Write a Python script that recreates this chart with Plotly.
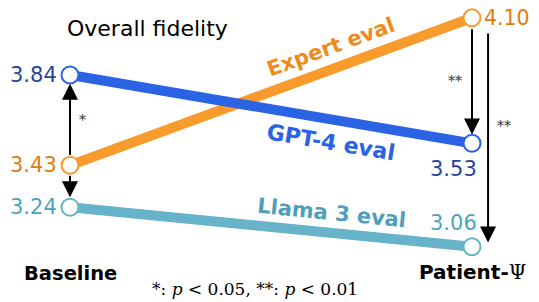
import plotly.graph_objects as go

conditions = ["Baseline", "Patient-Ψ"]
series_names = ["Expert eval", "GPT-4 eval", "Llama 3 eval"]
expert_vals = [3.43, 4.10]
gpt4_vals = [3.84, 3.53]
llama_vals = [3.24, 3.06]
value_labels = {
    "Expert eval": ["3.43", "4.10"],
    "GPT-4 eval": ["3.84", "3.53"],
    "Llama 3 eval": ["3.24", "3.06"],
}

xpos = [0, 1]
line_colors = {"Expert eval": "#f99b2c", "GPT-4 eval": "#2a63e4", "Llama 3 eval": "#67b3c9"}
name_colors = {"Expert eval": "#f08a1c", "GPT-4 eval": "#2a63e4", "Llama 3 eval": "#4f9fba"}
num_colors = {"Expert eval": "#e07d12", "GPT-4 eval": "#27449a", "Llama 3 eval": "#4ea3bf"}
vals = {"Expert eval": expert_vals, "GPT-4 eval": gpt4_vals, "Llama 3 eval": llama_vals}

FONT = "DejaVu Sans"
fig = go.Figure()

for name in series_names:
    fig.add_trace(go.Scatter(
        x=xpos, y=vals[name], mode="lines+markers",
        line=dict(color=line_colors[name], width=10),
        marker=dict(size=17, color="white", line=dict(color=line_colors[name], width=2)),
        showlegend=False, cliponaxis=False, hoverinfo="skip",
    ))

ann = []
for name in series_names:
    ann.append(dict(x=0, y=vals[name][0], text=value_labels[name][0], showarrow=False,
                    xanchor="right", yanchor="middle", xshift=-11,
                    font=dict(family=FONT, size=21, color=num_colors[name])))
ann.append(dict(x=1, y=expert_vals[1], text=value_labels["Expert eval"][1], showarrow=False,
                xanchor="left", yanchor="middle", xshift=10,
                font=dict(family=FONT, size=20.5, color=num_colors["Expert eval"])))
ann.append(dict(x=1, y=gpt4_vals[1], text=value_labels["GPT-4 eval"][1], showarrow=False,
                xanchor="right", yanchor="middle", xshift=7, yshift=-26,
                font=dict(family=FONT, size=21, color=num_colors["GPT-4 eval"])))
ann.append(dict(x=1, y=llama_vals[1], text=value_labels["Llama 3 eval"][1], showarrow=False,
                xanchor="right", yanchor="middle", xshift=7, yshift=24,
                font=dict(family=FONT, size=21, color=num_colors["Llama 3 eval"])))

label_t = 0.65
label_specs = {"Expert eval": (-20.1, 22, 21), "GPT-4 eval": (9.5, -23, 22), "Llama 3 eval": (5.7, 20, 21)}
for name in series_names:
    v0, v1 = vals[name]
    yv = v0 + (v1 - v0) * label_t
    ang, ysh, fs = label_specs[name]
    ann.append(dict(x=label_t, y=yv, text="<b>%s</b>" % name, showarrow=False,
                    textangle=ang, xanchor="center", yanchor="middle", yshift=ysh,
                    font=dict(family=FONT, size=fs, color=name_colors[name])))

arrow_common = dict(showarrow=True, arrowhead=2, arrowsize=1.6, arrowwidth=2,
                    arrowcolor="black", axref="x", ayref="y", text="")
ann.append(dict(x=0, y=gpt4_vals[0] - 0.04, ax=0, ay=expert_vals[0] + 0.04, **arrow_common))
ann.append(dict(x=0, y=llama_vals[0] + 0.045, ax=0, ay=expert_vals[0] - 0.04, **arrow_common))
ann.append(dict(x=1, y=gpt4_vals[1] + 0.04, ax=1, ay=expert_vals[1] - 0.045, **arrow_common))
ann.append(dict(x=1.04, y=llama_vals[1] + 0.02, ax=1.04, ay=expert_vals[1] - 0.065, **arrow_common))

star_font = dict(family="DejaVu Serif", size=14, color="#333333")
ann.append(dict(x=0, y=(gpt4_vals[0] + expert_vals[0]) / 2, text="*", showarrow=False,
                xanchor="left", xshift=7, font=star_font))
ann.append(dict(x=1, y=(expert_vals[1] + gpt4_vals[1]) / 2, text="**", showarrow=False,
                xanchor="right", xshift=-8, font=star_font))
ann.append(dict(x=1.04, y=(expert_vals[1] + llama_vals[1]) / 2 + 0.03, text="**", showarrow=False,
                xanchor="left", xshift=7, font=star_font))

# plot area spans page x 70..520, page y 8..260 (page has 8px body margin);
# x=0 at page 70, x=1 at page 472
XMAX = 450 / 402.0

def px(pxv):
    return (pxv - 70) / 450.0

def py(pyv):
    return (260 - pyv) / 252.0

ann.append(dict(xref="paper", yref="paper", x=px(147), y=py(28), text="Overall fidelity",
                showarrow=False, xanchor="center", yanchor="middle",
                font=dict(family=FONT, size=22, color="black")))
ann.append(dict(x=0, yref="paper", y=py(273), text="<b>Baseline</b>", showarrow=False,
                xanchor="center", yanchor="middle", font=dict(family=FONT, size=19.5, color="black")))
ann.append(dict(x=1, yref="paper", y=py(272),
                text="<b>Patient-</b><span style='font-family:DejaVu Serif'>Ψ</span>",
                showarrow=False, xanchor="center", yanchor="middle",
                font=dict(family=FONT, size=20, color="black")))
ann.append(dict(xref="paper", yref="paper", x=px(255), y=py(289),
                text="*: <i>p</i> < 0.05, **: <i>p</i> < 0.01", showarrow=False,
                xanchor="center", yanchor="middle",
                font=dict(family="DejaVu Serif", size=17, color="black")))

fig.update_layout(
    width=531, height=294,
    margin=dict(l=62, r=19, t=0, b=42),
    plot_bgcolor="white", paper_bgcolor="white",
    xaxis=dict(range=[0, XMAX], visible=False),
    yaxis=dict(range=[3.0, 3.84 + (75 - 8) / 220.0], visible=False),
    annotations=ann,
)
fig.write_html("out.html")
